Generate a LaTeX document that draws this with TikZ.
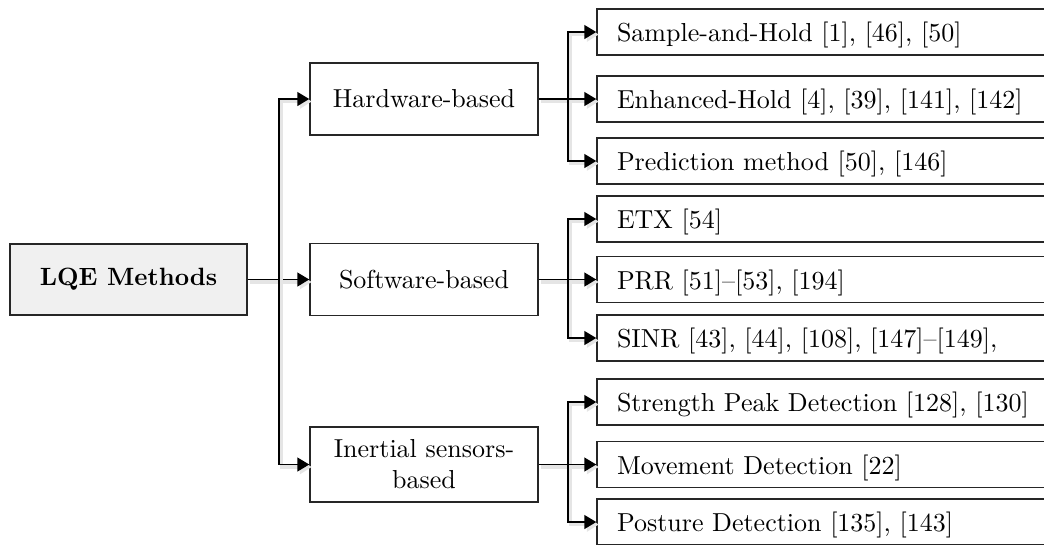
\documentclass[tikz,border=0pt]{standalone}
\usetikzlibrary{arrows.meta,positioning}

\begin{document}
\begin{tikzpicture}[on grid, line width=0.6pt,
  font=\fontsize{10.4}{12.4}\selectfont,
  >={Triangle[length=4.8pt,width=5.6pt]}]
  \tikzstyle{box}=[draw=black!85, minimum height=28.8pt, minimum width=91.2pt, align=center, inner sep=2pt]
  \tikzstyle{leaf}=[draw=black!85, minimum height=18.4pt, text width=170.8pt, inner xsep=8pt, text depth=0pt, align=left]
  \tikzstyle{wire}=[preaction={draw=black!10, line width=1.3pt, transform canvas={shift={(1pt,-1pt)}}}]

  \clip (0,0) rectangle (417.6pt,-217.6pt);

  \node[box, fill=black!6, minimum width=94.8pt, minimum height=28.4pt, font=\fontsize{10}{12}\selectfont] (lqe) at (51.4pt,-111.8pt) {\textbf{LQE Methods}};

  \node[box] (hw) [above right=72.2pt and 118.2pt of lqe] {Hardware-based};
  \node[box] (sw) [right=118.2pt of lqe]                   {Software-based};
  \node[box, minimum height=30pt] (is) [below right=74pt and 118.2pt of lqe] {Inertial sensors-\\based};

  % hardware
  \node[leaf] (hw1) [above right=26.8pt and 162.6pt of hw] {Sample-and-Hold [1], [46], [50]};
  \node[leaf] (hw2) [right=162.6pt of hw]                  {Enhanced-Hold [4], [39], [141], [142]};
  \node[leaf] (hw3) [below right=24.8pt and 162.6pt of hw] {Prediction method [50], [146]};

  % software
  \node[leaf] (sw1) [above right=24.2pt and 162.6pt of sw] {ETX [54]};
  \node[leaf] (sw2) [right=162.6pt of sw]                  {PRR [51]--[53], [194]};
  \node[leaf] (sw3) [below right=23.4pt and 162.6pt of sw] {SINR [43], [44], [108], [147]--[149],};

  % inertial sensors
  \node[leaf] (is1) [above right=25pt and 162.6pt of is] {Strength Peak Detection [128], [130]};
  \node[leaf] (is2) [right=162.6pt of is]                {Movement Detection [22]};
  \node[leaf] (is3) [below right=23pt and 162.6pt of is] {Posture Detection [135], [143]};

  \coordinate[right=12.4pt of lqe.east] (j0);
  \draw[wire] (lqe.east) -- (j0);
  \draw[wire,->] (j0) -- (sw);
  \draw[wire,->] (j0) |- (hw);
  \draw[wire,->] (j0) |- (is);

  \foreach \m in {hw,sw,is} {
    \coordinate[right=11.6pt of \m.east] (\m j);
    \draw[wire] (\m.east) -- (\m j);
    \foreach \k in {1,2,3}
      \draw[wire,->] (\m j) |- (\m\k);
  }
\end{tikzpicture}
\end{document}
